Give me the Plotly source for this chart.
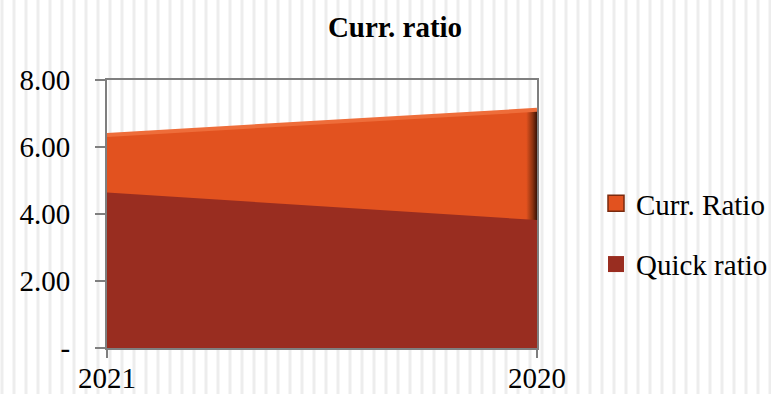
import plotly.graph_objects as go

years = ["2021", "2020"]
curr_ratio = [6.36, 7.11]
quick_ratio = [4.64, 3.82]
y_tickvals = [0, 2, 4, 6, 8]
y_ticktext = ["-", "2.00", "4.00", "6.00", "8.00"]

ORANGE = "#E2521F"
DARK_RED = "#992D20"
FONT = "Liberation Serif"

fig = go.Figure()

fig.add_trace(go.Scatter(
    x=years, y=curr_ratio, mode="lines", fill="tozeroy",
    line=dict(color="#EE6D3A", width=4),
    fillgradient=dict(type="horizontal",
                      colorscale=[[0, ORANGE], [0.975, ORANGE], [0.99, "#8A3210"], [1, "#3A1205"]]),
    name="Curr. Ratio", showlegend=False, hoverinfo="skip",
))
fig.add_trace(go.Scatter(
    x=years, y=quick_ratio, mode="lines", fill="tozeroy",
    line=dict(color=DARK_RED, width=0), fillcolor=DARK_RED,
    name="Quick ratio", showlegend=False, hoverinfo="skip",
))

# legend entries
fig.add_trace(go.Scatter(
    x=[None], y=[None], mode="markers", name="Curr. Ratio", legendgroup="a",
    marker=dict(symbol="square", size=17, color=ORANGE, line=dict(color="#7A2A0E", width=1.5)),
))
fig.add_trace(go.Scatter(
    x=[None], y=[None], mode="markers", name="Quick ratio", legendgroup="b",
    marker=dict(symbol="square", size=17, color=DARK_RED, line=dict(width=0)),
))

# decorative vertical stripes background
shapes = []
W = 430.0
H = 268.0
for i in range(0, 66):
    px = 2 + i * 12
    xp = (px - 107) / W
    shapes.append(dict(type="line", xref="paper", yref="paper",
                       x0=xp, x1=xp, y0=-50 / H, y1=(394 - 40) / H,
                       line=dict(color="#EDEDED", width=3), layer="below"))

fig.update_layout(
    width=771, height=394,
    margin=dict(l=107, r=234, t=80, b=46, autoexpand=False),
    paper_bgcolor="white",
    plot_bgcolor="rgba(0,0,0,0)",
    shapes=shapes,
    title=dict(text="<b>Curr. ratio</b>", x=395 / 771, xref="container", xanchor="center",
               y=(394 - 27) / 394, yref="container", yanchor="middle",
               font=dict(family=FONT, size=29, color="black")),
    font=dict(family=FONT, color="black"),
    legend=dict(x=(596 - 107) / W, xanchor="left", y=(348 - 234) / H, yanchor="middle",
                font=dict(family=FONT, size=29, color="black"),
                tracegroupgap=20, traceorder="grouped", bgcolor="rgba(0,0,0,0)"),
    showlegend=True,
)

fig.update_xaxes(
    type="category", range=[0, 1], showgrid=False, zeroline=False, automargin=False,
    showline=True, linecolor="#7F7F7F", linewidth=2, mirror=True,
    ticks="outside", ticklen=8, tickcolor="#7F7F7F", tickwidth=2,
    tickfont=dict(family=FONT, size=29, color="black"), ticklabelstandoff=-5,
)
fig.update_yaxes(
    range=[0, 8], tickvals=y_tickvals, ticktext=y_ticktext, automargin=False,
    showgrid=False, zeroline=False,
    showline=True, linecolor="#7F7F7F", linewidth=2, mirror=True,
    ticks="outside", ticklen=10, tickcolor="#7F7F7F", tickwidth=2,
    tickfont=dict(family=FONT, size=29, color="black"), ticklabelstandoff=19,
)

fig.write_html("out.html")
